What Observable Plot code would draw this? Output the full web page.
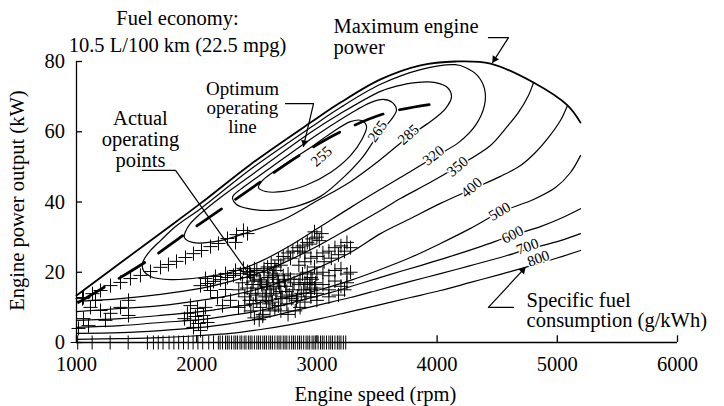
<!DOCTYPE html>
<html><head><meta charset="utf-8">
<script src="https://cdn.jsdelivr.net/npm/d3@7"></script>
<script src="https://cdn.jsdelivr.net/npm/@observablehq/plot@0.6"></script>
<style>body{margin:0;background:#fff}</style>
</head><body><div id="chart"></div>
<script>
// ---- data (engine speed rpm, engine power kW) ----
const xTicks = [1000, 2000, 3000, 4000, 5000, 6000];
const yTicks = [0, 20, 40, 60, 80];

const maxPower = [[1000,13.4],[1682,30.7],[2032,39.6],[2448,50.7],[2947,62.6],[3196,68.3],[3529,74.9],[3862,78.9],[4153,80.0],[4444,79.4],[4802,74.0],[5085,67.5],[5193,62.6]];

const sfc255 = [[2514,44.1],[2572,43.0],[2722,43.0],[2905,44.7],[3113,48.4],[3279,53.2],[3379,58.1],[3413,61.5],[3371,63.2],[3279,62.9],[3113,59.5],[2947,55.5],[2780,51.8],[2631,48.4],[2547,46.1]];
const sfc265 = [[2298,41.0],[2331,39.3],[2431,38.1],[2614,37.6],[2822,38.7],[3030,41.6],[3221,47.0],[3379,52.7],[3504,58.9],[3612,63.2],[3662,66.1],[3629,68.3],[3554,69.2],[3446,68.3],[3279,65.2],[3030,59.8],[2905,56.9],[2697,51.8],[2489,46.7],[2364,43.6],[2306,41.9]];
const sfc285 = [[1898,29.9],[1965,28.5],[2198,29.0],[2448,31.6],[2722,35.0],[3005,40.4],[3279,45.8],[3529,52.1],[3762,58.6],[3945,62.9],[4070,66.6],[4120,70.0],[4086,72.6],[3987,74.0],[3820,74.0],[3654,72.9],[3529,71.5],[3196,65.2],[2947,59.8],[2448,47.5],[2198,41.3],[2032,36.7],[1948,33.9],[1907,31.6]];
const sfc320 = [[1549,22.5],[1557,20.5],[1616,18.8],[1782,17.9],[2032,18.5],[2306,20.2],[2531,23.1],[2780,27.6],[3030,33.0],[3279,38.4],[3529,43.6],[3737,47.8],[3970,52.7],[4178,56.9],[4319,61.8],[4394,67.5],[4394,72.3],[4336,76.0],[4236,78.3],[4153,79.1],[3862,77.7],[3529,73.5],[3196,66.9],[2947,61.2],[2448,49.3],[2032,38.1],[1824,33.0],[1699,29.0],[1616,26.2],[1566,23.9]];
const sfc350 = [[1000,11.7],[1366,12.5],[1699,13.7],[2032,15.4],[2281,17.4],[2531,19.9],[2780,23.6],[3030,27.9],[3279,32.7],[3529,37.6],[3695,41.0],[3945,45.6],[4170,50.1],[4444,56.1],[4569,60.9],[4677,65.5],[4760,70.3],[4802,74.0]];
const sfc400 = [[1000,8.8],[1366,9.7],[1699,10.5],[2032,12.0],[2281,13.4],[2531,15.4],[2780,18.2],[3030,21.6],[3279,25.6],[3529,31.0],[3779,35.3],[4028,39.6],[4286,43.6],[4527,47.3],[4694,50.4],[4818,54.1],[4927,58.4],[5026,63.2],[5085,67.5]];
const sfc500 = [[1000,6.3],[1366,6.8],[1699,7.7],[2032,8.8],[2281,10.0],[2531,11.4],[2780,13.1],[3030,15.1],[3279,17.7],[3529,20.8],[3779,24.2],[4028,28.2],[4278,32.5],[4519,37.0],[4802,40.7],[4985,44.1],[5110,48.4],[5193,53.2]];
const sfc600 = [[1000,4.3],[1366,4.8],[1699,5.7],[2032,6.5],[2281,7.7],[2531,9.1],[2864,12.0],[3113,14.2],[3363,16.8],[3612,19.4],[3862,21.9],[4111,24.5],[4361,27.3],[4627,30.5],[4860,33.0],[5026,35.3],[5193,38.1]];
const sfc700 = [[1000,2.6],[1366,2.8],[1699,3.4],[2032,4.3],[2281,5.4],[2531,6.8],[2780,8.8],[3030,10.8],[3279,12.8],[3529,15.1],[3779,17.4],[4028,19.6],[4278,21.9],[4527,24.2],[4752,26.5],[5026,29.0],[5193,31.0]];
const sfc800 = [[1000,0.9],[1366,1.1],[1699,1.4],[2032,2.0],[2281,2.6],[2531,3.7],[2780,5.1],[3030,6.8],[3279,8.8],[3529,10.8],[3779,12.8],[4028,14.8],[4278,17.1],[4527,19.4],[4735,21.4],[4985,23.9],[5193,26.2]];

const optimumLine = [[1017,11.4],[1591,23.3],[1907,31.0],[2223,38.4],[2547,46.1],[2880,53.8],[3221,60.4],[3596,65.5],[3987,68.0]];

const sfcLabels = ["255","265","285","320","350","400","500","600","700","800"];
const labelRpm = [3038,3504,3762,3970,4170,4286,4519,4627,4752,4843];
const labelKw = [53.0,60.1,59.2,53.2,50.1,44.1,37.3,30.7,27.3,23.9];

const operatingPoints = [
 [1050,12.5],[1133,13.9],[1200,14.8],[1283,16.2],[1366,17.1],[1449,18.2],[1532,19.1],[1616,20.2],[1699,21.4],[1765,22.2],[1832,23.1],[1907,24.2],[1973,25.3],[2040,26.2],[2115,27.3],[2181,28.2],[2256,29.6],[2331,30.7],[2389,31.9],[2323,28.5],[2423,31.0],
 [1058,12.8],[1116,10.0],[1200,9.1],[1283,8.3],[1366,10.0],[1433,12.0],[1058,6.8],[1100,4.8],[1017,4.0],[1433,7.7],[1158,12.0],[1241,6.3],
 [1948,10.5],[2007,9.7],[2073,10.0],[1923,8.3],[1990,7.4],[2057,7.7],[1948,6.3],[2015,5.4],[1973,4.3],[2032,3.4],[2090,5.7],[1898,6.8],[2173,12.8],[2281,12.0],[2348,10.0],[2215,10.5],
 [2032,16.2],[2090,16.8],[2140,17.4],[2198,17.9],[2256,18.5],[2306,19.1],[2364,19.6],[2423,20.2],[2073,18.2],[2156,18.8],[2240,19.6],[2323,20.5],[2389,21.1],[2448,19.4],[2115,14.8],[2240,15.1],
 [2350,15],[2380,17],[2400,13],[2420,18.5],[2450,14],[2460,16.5],[2480,19],[2500,12],[2510,15.5],[2530,17.5],[2550,14],[2560,20],[2580,16],[2600,11],[2600,18.5],[2620,13.5],[2640,15.5],[2650,9.5],[2660,20.5],[2680,17],[2700,12.5],[2700,14.5],[2720,19],[2740,16],[2750,11],[2770,13.5],[2780,18],[2800,15],[2820,9],[2830,12],[2850,16.5],[2870,14],[2880,19.5],[2900,11.5],[2920,17],[2950,13],[2980,15.5],[2400,10.5],[2450,9],[2550,8],[2580,12],[2480,21],[2520,6.5],[2550,7.5],[2700,9],[2760,8],[2860,10],[2480,7],
 [2420,15.5],[2440,12],[2470,17.5],[2490,13.5],[2520,18],[2540,16.5],[2570,13],[2590,17],[2610,15],[2630,19],[2630,11.5],[2660,14],[2670,18],[2690,16],[2710,13],[2730,17.5],[2750,14.5],[2760,19.5],[2790,12.5],[2810,17],[2840,13],[2860,18],[2890,15],[2910,14],[2940,16.5],[2960,18],[2990,17],[2530,10],[2610,9],[2680,10.5],[2500,20.5],[2590,21.5],[2640,19.5],[2440,20],[2470,11],
 [2560,21],[2620,22.5],[2680,23.5],[2720,24.5],[2760,25.5],[2800,26],[2840,27],[2880,27.5],[2920,28.5],[2960,29.5],[3000,30],[3040,31],[2780,24],[2860,26],[2940,28],[2700,22],[2650,21.5],[2980,31.5],[3020,29],[2900,25.5],
 [2850,22],[2900,23],[2950,24],[3000,24.5],[3050,25.5],[3100,26],[3150,27],[3200,27.5],[3250,28.5],[3230,26],[3180,25],[3120,24],[3060,23],[2980,21.5],[3280,27],
 [2900,17],[2950,18.5],[3000,19.5],[3050,20],[3100,19],[3150,20.5],[3200,21],[3250,19.5],[2950,15],[3000,14],[3050,16.5],[3100,15],[3150,17.5],[3200,16],[3250,17],[3000,12],[3100,13],[3180,13.5],[3280,20],[2920,20],[3230,15]
];

const zeroPowerRpm = [1010,1130,1280,1430,1590,1640,1680,1720,1770,1810,1850,1890,1930,1970,2010,2050,2100,2140,2180,2195,2215,2240,2255,2270,2290,2310,2325,2340,2360,2375,2395,2410,2430,2445,2460,2480,2500,2515,2530,2550,2565,2580,2600,2615,2630,2650,2670,2685,2700,2720,2735,2750,2770,2790,2805,2820,2840,2855,2870,2890,2910,2925,2940,2960,2975,2990,3010,3030,3045,3060,3080,3100,3115,3130,3150,3170,3185,3200,3220,3240];

// ---- drawing ----
const X = d => d[0], Y = d => d[1];
const FONT = "'Liberation Serif', 'Times New Roman', serif";
const closedContours = [sfc255, sfc265, sfc285, sfc320];
const openContours = [sfc350, sfc400, sfc500, sfc600, sfc700, sfc800];
const labelAngles = [-42, -55, -42, -38, -40, -40, -30, -27, -20, -20];

const txt = (s, x, y, o = {}) => Plot.text([s], {x: () => x, y: () => y, text: d => d, fontSize: 20.5, fontFamily: FONT, fill: "black", lineAnchor: "middle", ...o});
const seg = (pts) => Plot.line(pts, {x: X, y: Y, stroke: "black", strokeWidth: 1.2});
const head = (tip, angle, dx, dy) => Plot.dot([tip], {x: X, y: Y, symbol: "triangle2", r: 3.6, rotate: angle, dx, dy, fill: "black", stroke: "none"});

const chart = Plot.plot({
  width: 724, height: 406,
  marginLeft: 76, marginRight: 47, marginTop: 61, marginBottom: 64,
  x: {domain: [1000, 6000], axis: null},
  y: {domain: [0, 80], axis: null},
  style: {fontFamily: FONT, background: "white", color: "black"},
  marks: [
    ...closedContours.map(c => Plot.line(c, {x: X, y: Y, curve: "catmull-rom-closed", stroke: "black", strokeWidth: 1.2})),
    ...openContours.map(c => Plot.line(c, {x: X, y: Y, curve: "catmull-rom", stroke: "black", strokeWidth: 1.2})),
    Plot.line(maxPower, {x: X, y: Y, curve: "catmull-rom", stroke: "black", strokeWidth: 1.8}),
    Plot.line(optimumLine, {x: X, y: Y, curve: "catmull-rom", stroke: "black", strokeWidth: 2.7, strokeDasharray: "30,17"}),
    Plot.dot(operatingPoints, {x: X, y: Y, symbol: "plus", r: 4.6, stroke: "black", strokeWidth: 1}),
    Plot.dot(zeroPowerRpm, {x: d => d, y: () => 0, symbol: "plus", r: 4.6, stroke: "black", strokeWidth: 1}),
    // axes
    Plot.ruleY([0], {x1: 1000, x2: 6000, stroke: "black", strokeWidth: 1.3}),
    Plot.ruleX([1000], {y1: 0, y2: 80, stroke: "black", strokeWidth: 1.3}),
    Plot.ruleX(xTicks, {x: d => d, y1: 0, y2: 1.9, stroke: "black", strokeWidth: 1.3}),
    Plot.ruleY(yTicks, {y: d => d, x1: 1000, x2: 1050, stroke: "black", strokeWidth: 1.3}),
    Plot.text(xTicks, {x: d => d, y: () => -6.2, text: d => String(d), fontSize: 20.5, fontFamily: FONT, lineAnchor: "middle"}),
    Plot.text(yTicks, {x: () => 905, y: d => d, text: d => String(d), fontSize: 20.5, fontFamily: FONT, textAnchor: "end", lineAnchor: "middle"}),
    txt("Engine speed (rpm)", 3487, -14.7),
    txt("Engine power output (kW)", 505, 40.4, {rotate: -90}),
    // contour labels
    Plot.text(sfcLabels, {x: (d, i) => labelRpm[i], y: (d, i) => labelKw[i], text: d => d, rotate: (d, i) => labelAngles[i], fontSize: 15, fontFamily: FONT, lineAnchor: "middle", fill: "black", stroke: "white", strokeWidth: 3, paintOrder: "stroke"}),
    // annotations
    txt("Fuel economy:\n10.5 L/100 km (22.5 mpg)", 1840, 89.0, {lineHeight: 1.3}),
    txt("Maximum engine\npower", 3138, 87.1, {textAnchor: "start", lineHeight: 1.01}),
    txt("Optimum\noperating\nline", 2381, 66.8, {fontSize: 19, lineHeight: 1.0}),
    txt("Actual\noperating\npoints", 1532, 57.9, {lineHeight: 1.02}),
    txt("Specific fuel\nconsumption (g/kWh)", 4744, 9.0, {textAnchor: "start", lineHeight: 0.98}),
    // leaders
    seg([[4427,86.8],[4594,86.8],[4461,79.7]]),
    head([4461,79.7], -147, 2.2, -3.4),
    seg([[2739,68.0],[2972,68.0],[2888,55.8]]),
    head([2888,55.8], -167, 0.9, -3.9),
    seg([[1549,49.0],[1824,49.0],[2414,20.5]]),
    seg([[4635,10.0],[4427,10.0],[4735,21.4]]),
    head([4735,21.4], 43, -2.7, 2.9)
  ]
});
document.getElementById("chart").appendChild(chart);
</script>
</body></html>
